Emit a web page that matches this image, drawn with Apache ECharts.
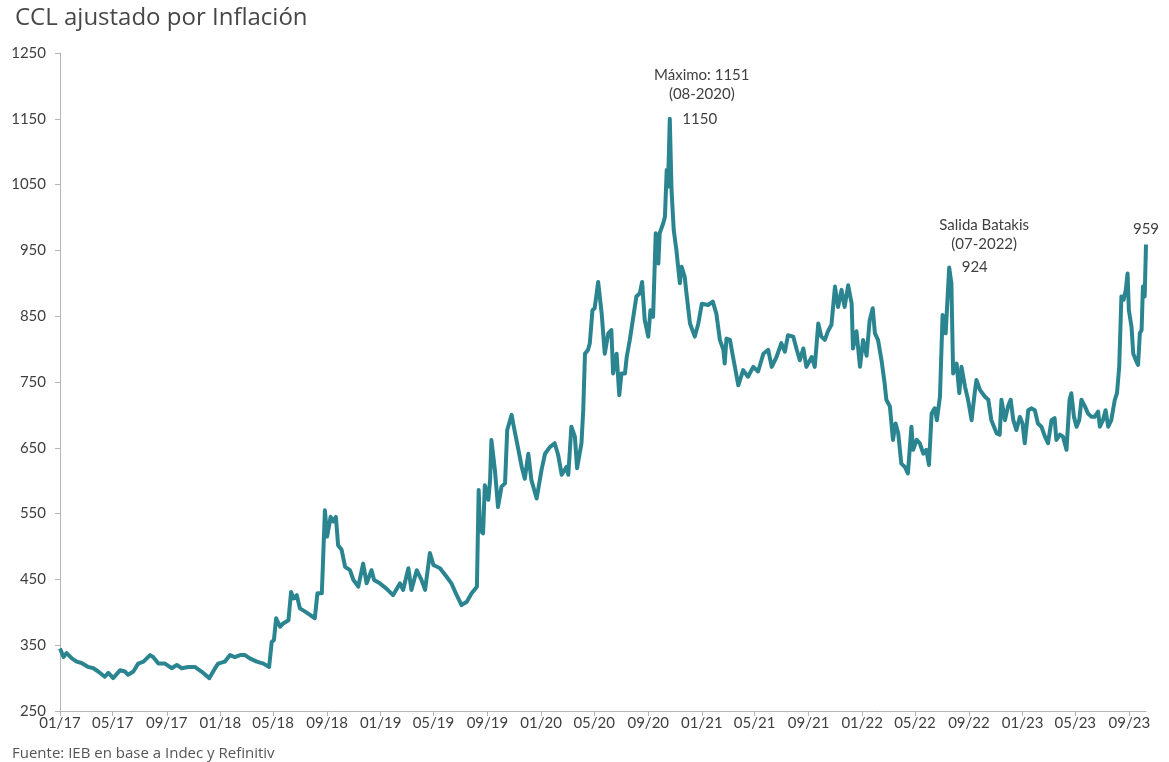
<!DOCTYPE html>
<html>
<head>
<meta charset="utf-8">
<script src="https://cdn.jsdelivr.net/npm/echarts@6/dist/echarts.min.js"></script>
<style>
  html, body { margin: 0; padding: 0; background: #fff; }
  #chart { width: 1169px; height: 762px; }
</style>
</head>
<body>
<div id="chart"></div>
<script>
// CCL ajustado por inflación (observaciones)
const fechas = [
  '2017-01-01','2017-01-09','2017-01-16','2017-01-28','2017-02-08','2017-02-19','2017-03-06','2017-03-18','2017-03-29','2017-04-13',
  '2017-04-21','2017-05-02','2017-05-18','2017-05-29','2017-06-05','2017-06-17','2017-06-28','2017-07-10','2017-07-25','2017-08-01',
  '2017-08-13','2017-08-28','2017-09-12','2017-09-24','2017-10-05','2017-10-20','2017-11-04','2017-11-19','2017-12-07','2017-12-20',
  '2017-12-27','2018-01-11','2018-01-23','2018-02-03','2018-02-15','2018-02-26','2018-03-09','2018-03-25','2018-04-09','2018-04-22',
  '2018-04-28','2018-05-03','2018-05-08','2018-05-17','2018-05-24','2018-06-05','2018-06-11','2018-06-16','2018-06-24','2018-07-01',
  '2018-07-13','2018-07-24','2018-08-04','2018-08-10','2018-08-20','2018-08-27','2018-09-01','2018-09-09','2018-09-15','2018-09-21',
  '2018-09-26','2018-10-04','2018-10-12','2018-10-23','2018-10-31','2018-11-11','2018-11-22','2018-11-30','2018-12-11','2018-12-17',
  '2018-12-30','2019-01-14','2019-01-29','2019-02-14','2019-02-21','2019-03-05','2019-03-12','2019-03-24','2019-04-04','2019-04-12',
  '2019-04-23','2019-05-01','2019-05-16','2019-05-31','2019-06-11','2019-06-23','2019-07-04','2019-07-16','2019-07-27','2019-08-08',
  '2019-08-12','2019-08-15','2019-08-22','2019-08-26','2019-09-03','2019-09-07','2019-09-10','2019-09-18','2019-09-25','2019-10-03',
  '2019-10-11','2019-10-16','2019-10-26','2019-10-31','2019-11-06','2019-11-18','2019-11-25','2019-12-03','2019-12-10','2019-12-22',
  '2020-01-02','2020-01-10','2020-01-21','2020-02-01','2020-02-09','2020-02-17','2020-02-28','2020-03-03','2020-03-10','2020-03-18',
  '2020-03-23','2020-04-02','2020-04-06','2020-04-10','2020-04-17','2020-04-21','2020-04-27','2020-05-02','2020-05-10','2020-05-18',
  '2020-05-25','2020-06-02','2020-06-09','2020-06-13','2020-06-21','2020-06-27','2020-07-02','2020-07-10','2020-07-14','2020-07-21',
  '2020-07-29','2020-08-05','2020-08-13','2020-08-18','2020-08-24','2020-09-01','2020-09-06','2020-09-12','2020-09-18','2020-09-24',
  '2020-09-27','2020-10-05','2020-10-09','2020-10-13','2020-10-16','2020-10-20','2020-10-24','2020-10-29','2020-11-04','2020-11-08',
  '2020-11-12','2020-11-16','2020-11-23','2020-11-27','2020-12-05','2020-12-16','2020-12-24','2021-01-01','2021-01-15','2021-01-26',
  '2021-02-03','2021-02-11','2021-02-19','2021-02-22','2021-02-26','2021-03-06','2021-03-13','2021-03-25','2021-04-05','2021-04-16',
  '2021-04-28','2021-05-09','2021-05-21','2021-06-01','2021-06-09','2021-06-20','2021-07-01','2021-07-09','2021-07-16','2021-07-28',
  '2021-08-05','2021-08-12','2021-08-20','2021-08-27','2021-09-08','2021-09-15','2021-09-23','2021-09-30','2021-10-08','2021-10-15',
  '2021-10-23','2021-10-31','2021-11-07','2021-11-15','2021-11-22','2021-11-30','2021-12-08','2021-12-11','2021-12-19','2021-12-27',
  '2022-01-03','2022-01-11','2022-01-18','2022-01-25','2022-01-30','2022-02-06','2022-02-14','2022-02-21','2022-02-25','2022-03-05',
  '2022-03-12','2022-03-18','2022-03-24','2022-03-31','2022-04-08','2022-04-15','2022-04-23','2022-04-27','2022-05-05','2022-05-12',
  '2022-05-20','2022-05-27','2022-06-02','2022-06-08','2022-06-15','2022-06-20','2022-06-27','2022-07-03','2022-07-10','2022-07-18',
  '2022-07-23','2022-07-27','2022-08-04','2022-08-10','2022-08-15','2022-08-23','2022-08-30','2022-09-07','2022-09-14','2022-09-18',
  '2022-09-26','2022-10-07','2022-10-15','2022-10-22','2022-11-03','2022-11-10','2022-11-14','2022-11-22','2022-11-29','2022-12-05',
  '2022-12-11','2022-12-18','2022-12-26','2023-01-01','2023-01-06','2023-01-14','2023-01-21','2023-01-29','2023-02-05','2023-02-13',
  '2023-02-21','2023-02-28','2023-03-08','2023-03-15','2023-03-19','2023-03-27','2023-04-03','2023-04-11','2023-04-18','2023-04-22',
  '2023-04-28','2023-05-04','2023-05-10','2023-05-15','2023-05-23','2023-05-30','2023-06-07','2023-06-14','2023-06-22','2023-06-26',
  '2023-07-03','2023-07-09','2023-07-15','2023-07-22','2023-07-30','2023-08-04','2023-08-09','2023-08-14','2023-08-19','2023-08-24',
  '2023-08-28','2023-08-31','2023-09-06','2023-09-10','2023-09-16','2023-09-21','2023-09-25','2023-09-29','2023-10-02','2023-10-06',
  '2023-10-09'
];

const ccl = [
  345,332,338,330,325,323,317,315,310,302,
  308,300,312,310,305,310,322,325,335,332,
  322,322,315,320,315,317,317,310,300,315,
  322,325,335,332,335,335,330,325,322,317,
  355,358,391,378,383,388,431,421,426,406,
  401,396,391,429,429,555,515,545,538,545,
  502,495,469,464,449,439,474,444,464,449,
  444,436,426,444,434,467,434,464,449,434,
  490,472,467,454,444,426,411,416,429,439,
  586,525,520,593,571,601,662,616,560,591,
  596,677,700,682,662,621,603,641,601,573,
  616,641,651,657,639,609,621,609,682,667,
  619,657,707,793,799,809,859,862,902,854,
  793,824,829,763,793,730,763,763,788,814,
  849,880,885,902,844,819,859,849,976,930,
  976,991,1001,1072,1047,1150,1042,981,951,925,
  900,925,910,885,839,819,839,869,867,872,
  854,814,799,778,816,814,788,745,768,758,
  773,766,793,799,773,788,809,796,821,819,
  799,783,801,773,788,773,839,819,814,827,
  837,895,864,890,864,897,869,801,827,773,
  814,790,844,862,824,814,783,748,723,713,
  662,687,672,626,621,611,682,647,662,657,
  641,647,624,702,710,692,728,852,824,924,
  900,763,778,733,773,743,723,692,733,753,
  738,728,723,692,672,670,723,692,713,723,
  692,677,697,687,657,707,710,707,687,682,
  667,657,692,695,662,670,667,647,723,733,
  697,682,692,723,713,702,697,697,705,682,
  692,707,682,692,723,733,773,880,875,890,
  915,859,834,793,783,776,824,829,895,880,
  959
];

// Fechas de las marcas del eje horizontal (cada cuatro meses)
const marcasEje = [
  '2017-01','2017-05','2017-09','2018-01','2018-05','2018-09','2019-01','2019-05','2019-09',
  '2020-01','2020-05','2020-09','2021-01','2021-05','2021-09','2022-01','2022-05','2022-09',
  '2023-01','2023-05','2023-09'
];

// Anotaciones
const fechaBatakis = '2022-07-18';
const textoMaximo = 'Máximo: 1151\n(08-2020)';
const textoBatakis = 'Salida Batakis\n(07-2022)';

function toTime(s) {
  const p = s.split('-').map(Number);
  return new Date(p[0], p[1] - 1, p[2] || 1).getTime();
}

const serie = fechas.map((f, i) => [toTime(f), ccl[i]]);
const ticks = marcasEje.map(toTime);
const iBatakis = fechas.indexOf(fechaBatakis);
const iUltimo = fechas.length - 1;

const FONT = 'Lato';
const FONT_TIT = 'Open Sans';
const TXT = '#3f3f3f';
const LINEA = '#2b8590';

const chart = echarts.init(document.getElementById('chart'), null, { renderer: 'canvas' });

chart.setOption({
  animation: false,
  backgroundColor: '#ffffff',
  textStyle: { fontFamily: FONT },
  title: [
    {
      text: 'CCL ajustado por Inflación',
      left: 10, top: 1,
      textStyle: { fontFamily: FONT_TIT, fontSize: 24, fontWeight: 'normal', color: '#474747' }
    },
    {
      text: 'Fuente: IEB en base a Indec y Refinitiv',
      left: 7, top: 741,
      textStyle: { fontFamily: FONT_TIT, fontSize: 15, fontWeight: 'normal', color: '#555555' }
    }
  ],
  grid: { left: 60, right: 23, top: 53, bottom: 51, containLabel: false },
  xAxis: {
    type: 'value',
    min: toTime(fechas[0]),
    max: serie[iUltimo][0],
    axisLine: { show: true, lineStyle: { color: '#b5b5b5', width: 1 } },
    axisTick: { show: true, customValues: ticks, length: 5, lineStyle: { color: '#b5b5b5' } },
    axisLabel: {
      customValues: ticks,
      margin: 5,
      fontFamily: FONT, fontSize: 15, color: TXT,
      formatter: function (v) {
        const d = new Date(v);
        const m = String(d.getMonth() + 1).padStart(2, '0');
        const y = String(d.getFullYear()).slice(2);
        return m + '/' + y;
      }
    },
    splitLine: { show: false }
  },
  yAxis: {
    type: 'value',
    min: 250, max: 1250, interval: 100,
    axisLine: { show: true, lineStyle: { color: '#b5b5b5', width: 1 } },
    axisTick: { show: true, length: 5, lineStyle: { color: '#b5b5b5' } },
    axisLabel: { margin: 14, fontFamily: FONT, fontSize: 15, color: TXT, formatter: function (v) { return String(v); } },
    splitLine: { show: false }
  },
  series: [{
    type: 'line',
    data: serie,
    showSymbol: false,
    smooth: false,
    lineStyle: { color: LINEA, width: 4, join: 'round' },
    itemStyle: { color: LINEA },
    markPoint: {
      symbol: 'circle',
      symbolSize: 1,
      itemStyle: { color: 'rgba(0,0,0,0)' },
      label: { fontFamily: FONT, fontSize: 15, color: TXT, lineHeight: 19 },
      data: [
        { type: 'max', label: { position: 'right', distance: 12, formatter: '{c}' } },
        { type: 'max', label: { position: 'top', distance: 15, offset: [32, 0], align: 'center', formatter: textoMaximo } },
        { coord: serie[iBatakis], value: ccl[iBatakis], label: { position: 'right', distance: 12, formatter: '{c}' } },
        { coord: serie[iBatakis], value: ccl[iBatakis], label: { position: 'top', distance: 13, offset: [35, 0], align: 'center', formatter: textoBatakis } },
        { coord: serie[iUltimo], value: ccl[iUltimo], label: { position: 'top', distance: 5, formatter: '{c}' } }
      ]
    }
  }]
});
</script>
</body>
</html>
